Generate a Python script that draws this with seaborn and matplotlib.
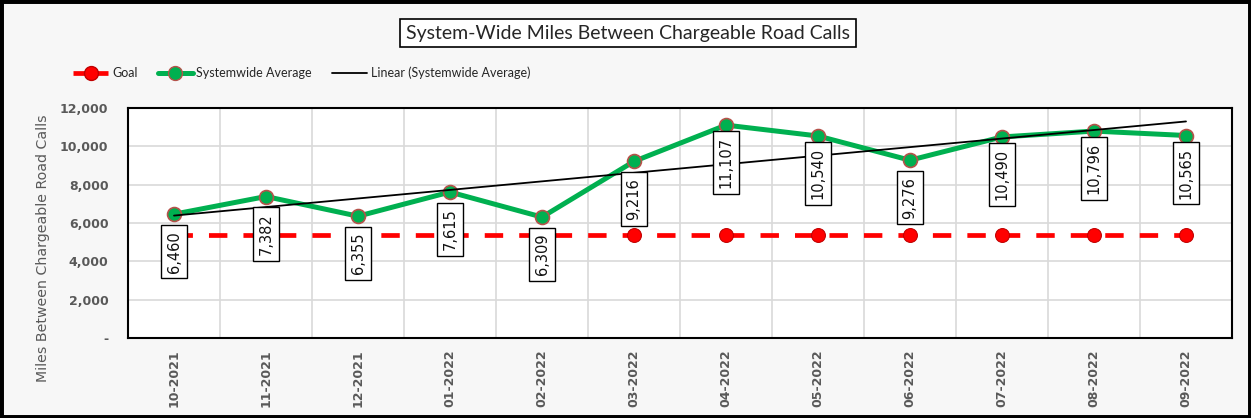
import numpy as np
import pandas as pd
import seaborn as sns
import matplotlib
matplotlib.use("Agg")
from matplotlib import pyplot as plt
from matplotlib.lines import Line2D
from matplotlib.patches import Rectangle
from matplotlib.transforms import blended_transform_factory

months = ["10-2021", "11-2021", "12-2021", "01-2022", "02-2022", "03-2022",
          "04-2022", "05-2022", "06-2022", "07-2022", "08-2022", "09-2022"]
systemwide = [6460, 7382, 6355, 7615, 6309, 9216, 11107, 10540, 9276, 10490, 10796, 10565]
goal = [5400] * 12
yticks = [0, 2000, 4000, 6000, 8000, 10000, 12000]
ytick_labels = ["-", "2,000", "4,000", "6,000", "8,000", "10,000", "12,000"]

sns.set_style("white")
plt.rcParams['font.family'] = ['DejaVu Sans']

df = pd.DataFrame({"idx": np.arange(len(months)), "month": months,
                   "avg": systemwide, "goal": goal})

# excel style linear trend
slope, icpt = np.polyfit(df["idx"], df["avg"], 1)
df["trend"] = icpt + slope * df["idx"]

fig = plt.figure(figsize=(12.51, 4.18), dpi=100, facecolor="#f7f7f7")
ax = fig.add_axes([128/1251, 1-338/418, (1232-128)/1251, (338-108)/418])
ax.set_facecolor("white")

sns.lineplot(data=df, x="idx", y="goal", ax=ax, color="#ff0000", lw=3.4,
             marker="o", markersize=10, markerfacecolor="#ff0000",
             markeredgecolor="#c00000", zorder=3)
ax.lines[-1].set_dashes((3.9, 3.4))
sns.lineplot(data=df, x="idx", y="avg", ax=ax, color="#00b050", lw=3.6,
             marker="o", markersize=10, markerfacecolor="#00b050",
             markeredgecolor="#b5524a", markeredgewidth=1.2, zorder=4)
sns.lineplot(data=df, x="idx", y="trend", ax=ax, color="black", lw=1.3, zorder=5)

for i, v in enumerate(systemwide):
    ax.annotate(f"{v:,}", (i, v), xytext=(0, -27), textcoords="offset points",
                rotation=90, ha="center", va="center", fontsize=10.5, color="#111111",
                bbox=dict(boxstyle="square,pad=0.4", fc="white", ec="black", lw=1),
                zorder=6)

ax.set_xlim(-0.5, len(months) - 0.5)
ax.set_ylim(0, 12000)
ax.set_xticks(range(len(months)))
ax.set_xticklabels(months, rotation=90, fontsize=9, fontweight="bold", color="#595959")
ax.set_yticks(yticks)
ax.set_yticklabels(ytick_labels, fontsize=9, fontweight="bold", color="#595959")
ax.set_xticks(np.arange(0.5, len(months) - 0.5), minor=True)
ax.grid(False)
ax.grid(True, axis="y", which="major", color="#d9d9d9", lw=1.2)
ax.grid(True, axis="x", which="minor", color="#d9d9d9", lw=1.2)
ax.tick_params(axis="both", which="both", length=0)
ax.tick_params(axis="x", pad=8)
ax.tick_params(axis="y", pad=14)
for s in ax.spines.values():
    s.set_visible(True)
    s.set_color("black")
    s.set_linewidth(1.5)
ax.set_xlabel("")
ax.set_ylabel("Miles Between Chargeable Road Calls", fontsize=10.2, color="#595959")
ax.yaxis.set_label_coords(50/1251, 0.39,
                          transform=blended_transform_factory(fig.transFigure, ax.transAxes))

fig.text(628/1251, 1-33/418, "System-Wide Miles Between Chargeable Road Calls",
         ha="center", va="center", fontsize=14, family="Lato", color="#262626",
         bbox=dict(boxstyle="square,pad=0.3", fc="white", ec="black", lw=1.2))

handles = [
    Line2D([], [], color="#ff0000", lw=3.4, marker="o", markersize=10,
           markeredgecolor="#c00000", dashes=(3.9, 1.2)),
    Line2D([], [], color="#00b050", lw=3.6, marker="o", markersize=10,
           markeredgecolor="#b5524a"),
    Line2D([], [], color="black", lw=1.3),
]
fig.legend(handles, ["Goal", "Systemwide Average", "Linear (Systemwide Average)"],
           loc="center left", bbox_to_anchor=(62/1251, 1-73/418), ncol=3, frameon=False,
           prop={"family": "Lato", "size": 9},
           handlelength=2.8, columnspacing=1.6, handletextpad=0.3, labelcolor="#262626")

fig.patches.append(Rectangle((0, 0), 1, 1, transform=fig.transFigure, fill=False,
                             ec="black", lw=5, zorder=10))

fig.savefig("out.png", dpi=100, facecolor=fig.get_facecolor())
